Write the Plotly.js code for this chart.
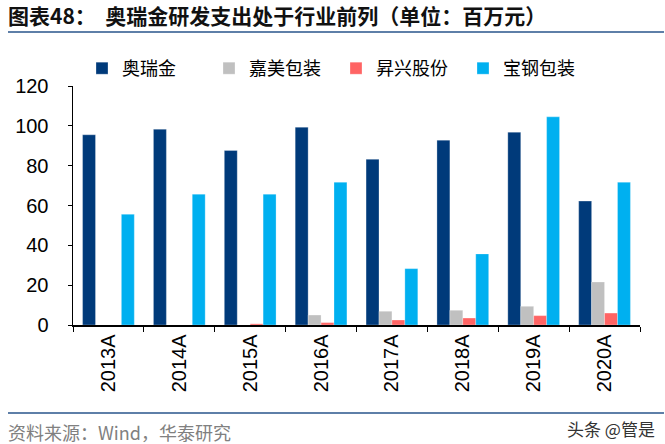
<!DOCTYPE html>
<html>
<head>
<meta charset="utf-8">
<script src="https://cdn.plot.ly/plotly-3.0.1.min.js"></script>
<style>
  html, body { margin: 0; padding: 0; background: #fff; }
  #myPlot { width: 665px; height: 444px; }
</style>
</head>
<body>
<div id="myPlot"></div>
<script>
// years on the x axis
let years = ['2013A', '2014A', '2015A', '2016A', '2017A', '2018A', '2019A', '2020A'];

// R&D spend, million yuan
let orj = [95.5, 98.3, 87.6, 99.3, 83.2, 92.8, 96.8, 62.2];
let jiamei = [0, 0, 0, 5.0, 6.9, 7.4, 9.4, 21.6];
let shengxing = [0, 0, 0.6, 1.2, 2.5, 3.5, 4.7, 6.0];
let baogang = [55.6, 65.7, 65.7, 71.7, 28.3, 35.7, 104.5, 71.7];

let names = ['奥瑞金', '嘉美包装', '昇兴股份', '宝钢包装'];
let colors = ['#003A7A', '#C0C0C0', '#FF6464', '#00B0F0'];
let series = [orj, jiamei, shengxing, baogang];

let num = '"Liberation Sans", "Noto Sans CJK SC", sans-serif';
let cjk = '"Noto Sans CJK SC", sans-serif';

let data = [];
for (let i = 0; i < 4; i++) {
  data.push({
    x: years,
    y: series[i],
    name: names[i],
    type: 'bar',
    marker: { color: colors[i], line: { color: 'rgba(255,255,255,0.35)', width: 0.8 } },
    hoverinfo: 'skip'
  });
}

// paper coords for things outside the plot area
function px(p) { return (p - 73) / 567; }
function py(p) { return (325 - p) / 239; }

let layout = {
  width: 665,
  height: 444,
  margin: { l: 73, r: 25, t: 86, b: 119 },
  paper_bgcolor: '#fff',
  plot_bgcolor: '#fff',
  barmode: 'group',
  bargap: 0.27,
  bargroupgap: 0,
  showlegend: true,
  legend: {
    orientation: 'h',
    x: px(82), y: py(50), xanchor: 'left', yanchor: 'top',
    entrywidth: 82,
    font: { family: cjk, size: 18, color: '#000' },
    itemwidth: 30,
    traceorder: 'normal'
  },
  xaxis: {
    type: 'category',
    tickangle: -90,
    tickson: 'boundaries',
    ticks: 'outside',
    ticklen: 5,
    tickcolor: '#000',
    showline: true,
    linecolor: '#000',
    linewidth: 1.5,
    showgrid: false,
    automargin: false,
    tickfont: { family: num, size: 20, color: '#000' }
  },
  yaxis: {
    range: [0, 120],
    dtick: 20,
    ticks: 'outside',
    ticklen: 4,
    tickcolor: '#000',
    ticklabelstandoff: 15,
    showline: true,
    linecolor: '#000',
    linewidth: 1.5,
    showgrid: false,
    zeroline: false,
    automargin: false,
    tickfont: { family: num, size: 20, color: '#000' }
  },
  shapes: [
    { type: 'line', xref: 'paper', yref: 'paper', x0: px(8), x1: px(664), y0: py(32), y1: py(32),
      line: { color: '#5E7FA8', width: 2 } },
    { type: 'line', xref: 'paper', yref: 'paper', x0: px(8), x1: px(664), y0: py(413), y1: py(413),
      line: { color: '#5E7FA8', width: 2 } }
  ],
  annotations: [
    { text: '<b>图表48：\u00a0\u00a0奥瑞金研发支出处于行业前列（单位：百万元）</b>',
      xref: 'paper', yref: 'paper', x: px(6), y: py(15), xanchor: 'left', yanchor: 'middle',
      showarrow: false, font: { family: cjk, size: 21, color: '#111' } },
    { text: '资料来源：Wind，华泰研究',
      xref: 'paper', yref: 'paper', x: px(6), y: py(432), xanchor: 'left', yanchor: 'middle',
      showarrow: false, font: { family: cjk, size: 18, color: '#808080' } },
    { text: '头条 @管是',
      xref: 'paper', yref: 'paper', x: px(657), y: py(428), xanchor: 'right', yanchor: 'middle',
      showarrow: false, font: { family: cjk, size: 17, color: '#333' } }
  ]
};

Plotly.newPlot('myPlot', data, layout, { displayModeBar: false, staticPlot: true });
</script>
</body>
</html>
